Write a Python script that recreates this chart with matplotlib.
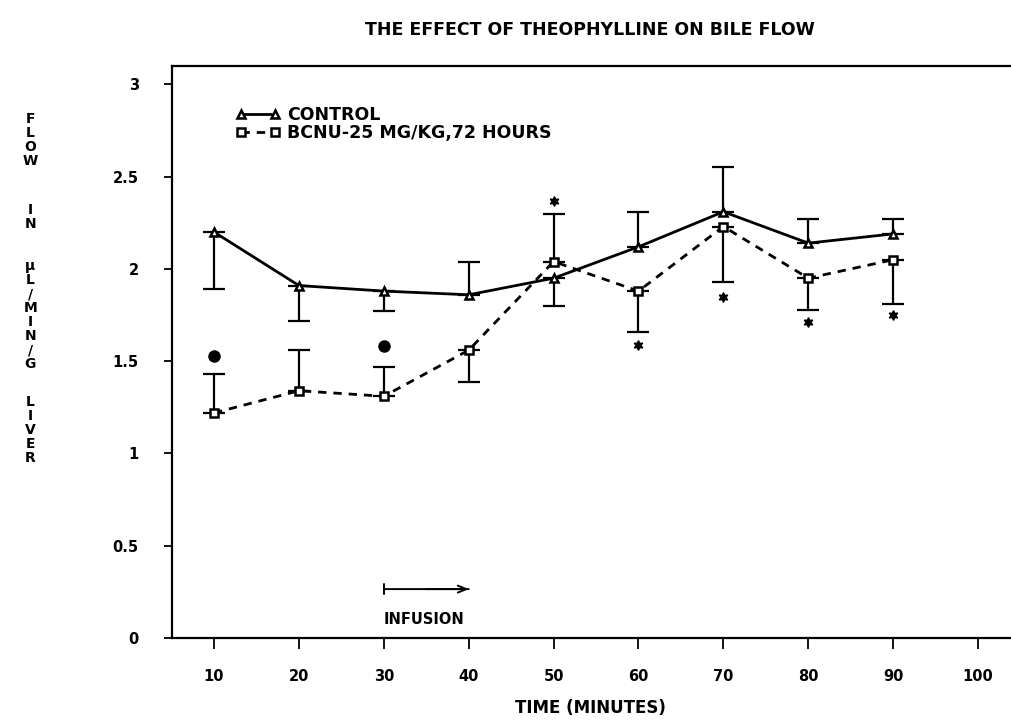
import matplotlib
matplotlib.use("Agg")
import matplotlib.pyplot as plt
import numpy as np

# data
minutes = [10, 20, 30, 40, 50, 60, 70, 80, 90]
control = [2.20, 1.91, 1.88, 1.86, 1.95, 2.12, 2.31, 2.14, 2.19]
control_err_low = [0.31, 0.19, 0.11, 0.0, 0.15, 0.0, 0.0, 0.0, 0.0]
control_err_high = [0.0, 0.0, 0.0, 0.18, 0.0, 0.19, 0.24, 0.13, 0.08]
bcnu = [1.22, 1.34, 1.31, 1.56, 2.04, 1.88, 2.23, 1.95, 2.05]
bcnu_err_low = [0.0, 0.0, 0.0, 0.17, 0.0, 0.22, 0.30, 0.17, 0.24]
bcnu_err_high = [0.21, 0.22, 0.16, 0.0, 0.26, 0.0, 0.0, 0.0, 0.0]

# significance markers
dot_x = [10, 30]
dot_y = [1.53, 1.58]
star_x = [50, 60, 70, 80, 90]
star_y = [2.37, 1.59, 1.85, 1.71, 1.75]

xticks = [10, 20, 30, 40, 50, 60, 70, 80, 90, 100]
yticks = [0, 0.5, 1, 1.5, 2, 2.5, 3]
ytick_labels = ["0", "0.5", "1", "1.5", "2", "2.5", "3"]

infusion_start, infusion_end = 30, 40

plt.rcParams["font.family"] = ["DejaVu Sans"]
plt.rcParams["font.weight"] = "bold"

fig = plt.figure(figsize=(10.12, 7.25), dpi=100)
ax = fig.add_axes([0.170, 0.12, 0.830, 0.789])

ax.errorbar(minutes, control, yerr=[control_err_low, control_err_high],
            fmt="none", ecolor="black", elinewidth=1.6, capsize=8, capthick=1.6)
ax.errorbar(minutes, bcnu, yerr=[bcnu_err_low, bcnu_err_high],
            fmt="none", ecolor="black", elinewidth=1.6, capsize=8, capthick=1.6)

ax.plot(minutes, control, color="black", lw=2, marker="^", ms=6,
        mfc="white", mec="black", mew=1.8, label="CONTROL")
ax.plot(minutes, bcnu, color="black", lw=2, ls=(0, (3, 2.5)), marker="s", ms=6,
        mfc="white", mec="black", mew=1.8, label="BCNU-25 MG/KG,72 HOURS")

ax.plot(dot_x, dot_y, ls="none", marker="o", ms=8, color="black")
ax.plot(star_x, star_y, ls="none", marker=(6, 1, 0), ms=7, color="black")

# infusion arrow
ax.annotate("", xy=(infusion_end, 0.265), xytext=(infusion_start, 0.265),
            arrowprops=dict(arrowstyle="|-|,widthA=0.35,widthB=0.0", lw=1.4, color="black",
                            shrinkA=0, shrinkB=0))
ax.annotate("", xy=(infusion_end, 0.265), xytext=(infusion_start + 5, 0.265),
            arrowprops=dict(arrowstyle="->,head_width=0.25,head_length=0.6", lw=1.4,
                            color="black", shrinkA=0, shrinkB=0))
ax.text(infusion_start, 0.10, "INFUSION", fontsize=10.5, ha="left", va="center")

ax.set_xlim(5.05, 104.0)
ax.set_ylim(0, 3.10)
ax.set_xticks(xticks)
ax.set_xticklabels([str(t) for t in xticks], fontsize=10.5)
ax.set_yticks(yticks)
ax.set_yticklabels(ytick_labels, fontsize=10.5)
ax.tick_params(axis="x", direction="out", length=8, width=1.3, pad=14)
ax.tick_params(axis="y", direction="out", length=6, width=1.3, pad=18)
ax.spines["right"].set_visible(False)
for s in ["left", "bottom", "top"]:
    ax.spines[s].set_linewidth(1.6)

ax.legend(loc="upper left", bbox_to_anchor=(0.065, 0.945), frameon=False,
          numpoints=2, handlelength=2.6, handletextpad=0.4, labelspacing=0.0,
          borderpad=0, fontsize=12.5)

fig.text(0.583, 0.958, "THE EFFECT OF THEOPHYLLINE ON BILE FLOW", ha="center",
         va="center", fontsize=12.5)
fig.text(0.583, 0.023, "TIME (MINUTES)", ha="center", va="center", fontsize=12)

# stacked y label
ylabel_words = ["FLOW", "IN", "\u00b5L/MIN/G", "LIVER"]
ylabel_tops = [112, 203, 259, 395]
for word, top in zip(ylabel_words, ylabel_tops):
    fig.text(0.03, 1 - top / 725, "\n".join(word), ha="center", va="top",
             fontsize=10, linespacing=1.0)

fig.savefig("out.png", dpi=100)
